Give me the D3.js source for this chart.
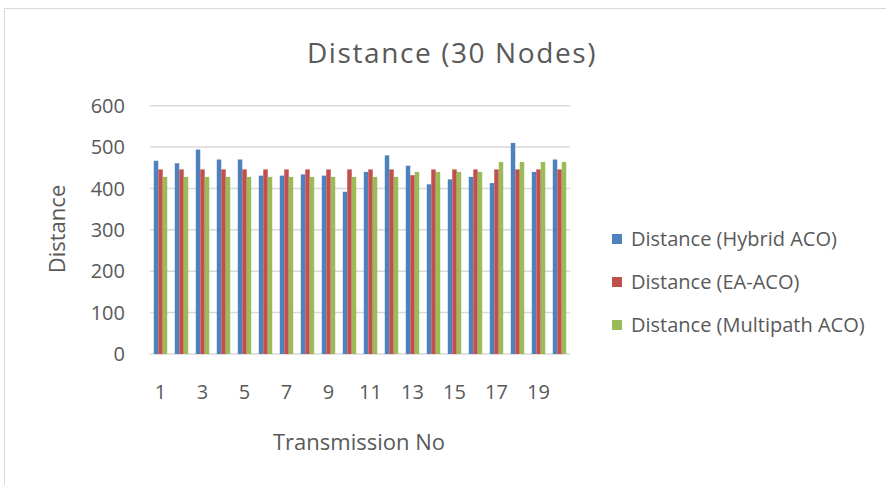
<!DOCTYPE html>
<html>
<head>
<meta charset="utf-8">
<script src="https://cdn.jsdelivr.net/npm/d3@7"></script>
<style>
  body { margin: 0; background: #fff; }
  svg { display: block; font-family: "Open Sans", sans-serif; }
</style>
</head>
<body>
<svg id="chart" width="886" height="485"></svg>
<script>
const transmissions = d3.range(1, 21);
const seriesNames = ["Distance (Hybrid ACO)", "Distance (EA-ACO)", "Distance (Multipath ACO)"];
const hybridAco = [467, 461, 494, 470, 470, 431, 431, 434, 431, 392, 440, 480, 455, 410, 422, 428, 413, 510, 440, 470];
const eaAco = [446, 446, 446, 446, 446, 446, 446, 446, 446, 446, 446, 446, 432, 446, 446, 446, 446, 446, 446, 446];
const multipathAco = [428, 428, 428, 428, 428, 428, 428, 428, 428, 428, 428, 428, 440, 440, 440, 440, 464, 464, 464, 464];
const colors = ["#4f81bd", "#c0504d", "#9bbb59"];
const yTicks = [0, 100, 200, 300, 400, 500, 600];
const xTickLabels = [1, 3, 5, 7, 9, 11, 13, 15, 17, 19];

const svg = d3.select("#chart");

// chart area border
svg.append("rect")
  .attr("x", 4.5).attr("y", 8.5)
  .attr("width", 900).attr("height", 500)
  .attr("fill", "none").attr("stroke", "#d9d9d9");

const x = d3.scaleBand()
  .domain(transmissions)
  .range([150, 570])
  .paddingInner(0.36)
  .paddingOuter(0.18);

const y = d3.scaleLinear()
  .domain([0, 600])
  .range([354, 105.7]);

const xSub = d3.scaleBand()
  .domain(d3.range(3))
  .range([0, x.bandwidth()]);

// gridlines
svg.append("g")
  .selectAll("line")
  .data(yTicks)
  .join("line")
  .attr("x1", 150).attr("x2", 570)
  .attr("y1", d => y(d)).attr("y2", d => y(d))
  .attr("stroke", "#d9d9d9")
  .attr("stroke-width", 1.5);

// y labels
svg.append("g")
  .selectAll("text")
  .data(yTicks)
  .join("text")
  .attr("x", 125)
  .attr("y", d => y(d))
  .attr("dy", "0.36em")
  .attr("text-anchor", "end")
  .attr("font-size", 20)
  .attr("fill", "#595959")
  .text(d => d);

const rows = transmissions.map((t, i) => ({
  t: t,
  vals: [hybridAco[i], eaAco[i], multipathAco[i]]
}));

// bars
svg.append("g")
  .selectAll("g")
  .data(rows)
  .join("g")
  .attr("transform", d => `translate(${x(d.t)},0)`)
  .selectAll("rect")
  .data(d => d.vals)
  .join("rect")
  .attr("x", (d, i) => xSub(i))
  .attr("width", xSub.bandwidth())
  .attr("y", d => y(d))
  .attr("height", d => y(0) - y(d))
  .attr("fill", (d, i) => colors[i]);

// x labels
svg.append("g")
  .selectAll("text")
  .data(xTickLabels)
  .join("text")
  .attr("x", d => x(d) + x.bandwidth() / 2)
  .attr("y", 399)
  .attr("text-anchor", "middle")
  .attr("font-size", 20)
  .attr("fill", "#595959")
  .text(d => d);

// titles
svg.append("text")
  .attr("x", 452).attr("y", 63)
  .attr("text-anchor", "middle")
  .attr("font-size", 28)
  .attr("letter-spacing", 1.6)
  .attr("fill", "#595959")
  .text("Distance (30 Nodes)");

svg.append("text")
  .attr("x", 359).attr("y", 450)
  .attr("text-anchor", "middle")
  .attr("font-size", 22)
  .attr("fill", "#595959")
  .text("Transmission No");

svg.append("text")
  .attr("transform", "translate(65,229) rotate(-90)")
  .attr("text-anchor", "middle")
  .attr("font-size", 22)
  .attr("fill", "#595959")
  .text("Distance");

// legend
const legend = svg.append("g")
  .selectAll("g")
  .data(seriesNames)
  .join("g")
  .attr("transform", (d, i) => `translate(612,${239 + i * 43})`);

legend.append("rect")
  .attr("x", 0).attr("y", -5)
  .attr("width", 10).attr("height", 10)
  .attr("fill", (d, i) => colors[i]);

legend.append("text")
  .attr("x", 19)
  .attr("dy", "0.36em")
  .attr("font-size", 20)
  .attr("fill", "#595959")
  .text(d => d);
</script>
</body>
</html>
